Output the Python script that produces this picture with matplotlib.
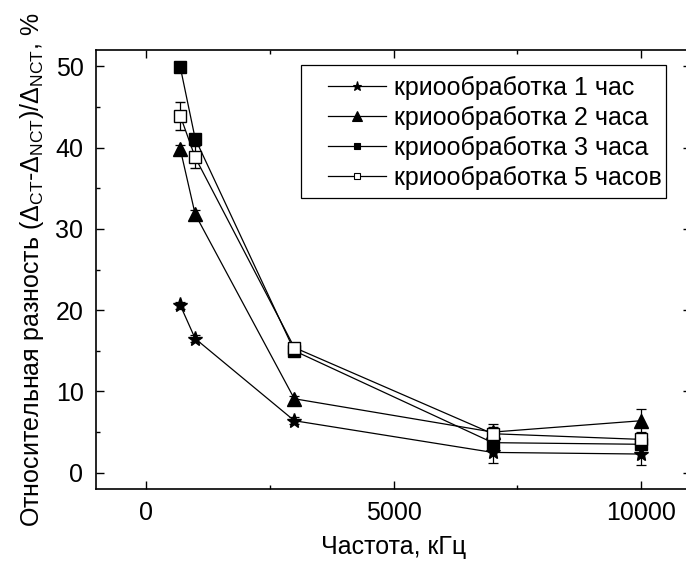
import matplotlib
matplotlib.use('Agg')
import matplotlib.pyplot as plt
from matplotlib.lines import Line2D
from matplotlib.patches import Rectangle
from matplotlib.ticker import MultipleLocator

# frequency, kHz
freq = [700, 1000, 3000, 7000, 10000]

# relative difference, % (value, error) per cryo-treatment time
y_1h = [20.6, 16.5, 6.4, 2.5, 2.3]
e_1h = [0.4, 0.4, 0.4, 1.3, 1.4]
y_2h = [39.8, 31.8, 9.1, 5.0, 6.4]
e_2h = [0.5, 0.5, 0.4, 1.0, 1.4]
y_3h = [49.9, 41.1, 15.0, 3.7, 3.5]
e_3h = [0.4, 0.5, 0.4, 0.5, 0.5]
y_5h = [43.9, 38.8, 15.4, 4.8, 4.1]
e_5h = [1.75, 1.35, 0.5, 0.8, 0.6]

labels = ['криообработка 1 час', 'криообработка 2 часа',
          'криообработка 3 часа', 'криообработка 5 часов']

plt.rcParams['font.family'] = ['Liberation Sans', 'DejaVu Sans']
plt.rcParams['mathtext.fontset'] = 'custom'
plt.rcParams['mathtext.rm'] = 'Liberation Sans'
plt.rcParams['mathtext.it'] = 'Liberation Sans'

W, H = 686, 563
fig = plt.figure(figsize=(W/100, H/100), dpi=100)
ax = fig.add_axes([96/W, 1-489/H, 595/W, 439/H])

series = [
    (y_1h, e_1h, dict(marker='*', ms=11, mfc='k', mec='k'), 6.5),
    (y_2h, e_2h, dict(marker='^', ms=10, mfc='k', mec='k'), 6.5),
    (y_3h, e_3h, dict(marker='s', ms=8, mfc='k', mec='k'), 5),
    (y_5h, e_5h, dict(marker='s', ms=8, mfc='white', mec='k', mew=1), 5),
]
handles = []
for (y, e, st, lms), lab in zip(series, labels):
    ax.errorbar(freq, y, yerr=e, color='k', lw=0.9, elinewidth=0.9,
                capsize=3.5, capthick=0.9, **st)
    hst = dict(st)
    hst['ms'] = lms
    hst['mew'] = 0.8
    handles.append(Line2D([], [], color='k', lw=0.9, **hst))

ax.set_xlim(-1000, 11000)
ax.set_ylim(-2, 52)
ax.xaxis.set_major_locator(MultipleLocator(5000))
ax.xaxis.set_minor_locator(MultipleLocator(2500))
ax.yaxis.set_major_locator(MultipleLocator(10))
ax.yaxis.set_minor_locator(MultipleLocator(5))
ax.tick_params(which='both', direction='in', top=True, right=True,
               labelsize=18, width=1)
ax.tick_params(which='major', length=6, pad=9)
ax.tick_params(which='minor', length=3)
for s in ax.spines.values():
    s.set_linewidth(1.2)

ax.set_xlabel('Частота, кГц', fontsize=18, labelpad=7)
ax.set_ylabel(r'Относительная разность ($\Delta_{\rm CT}$-$\Delta_{\rm NCT}$)/$\Delta_{\rm NCT}$, %',
              fontsize=18, labelpad=7)

# legend entries without frame, box drawn separately
leg = ax.legend(handles, labels, loc='upper left',
                bbox_to_anchor=(328/W, 1-76/H), bbox_transform=fig.transFigure,
                fontsize=18, handlelength=2.3, handletextpad=0.35,
                labelspacing=0.24, borderpad=0, borderaxespad=0,
                frameon=False)
fig.patches.append(Rectangle((301/W, 1-198/H), 365/W, 133/H,
                             transform=fig.transFigure, fill=False,
                             ec='k', lw=0.9, zorder=5))

fig.savefig('out.png', dpi=100)
